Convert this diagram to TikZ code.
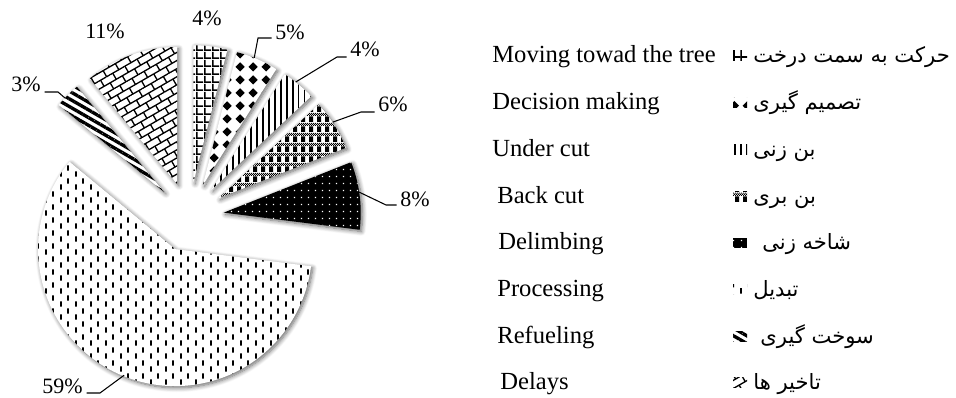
\documentclass[tikz,border=0pt]{standalone}
\usepackage{fontspec}
\setmainfont{Liberation Serif}
\newfontfamily\farsi[Script=Arabic]{DejaVu Sans}
\TeXXeTstate=1
\usetikzlibrary{patterns.meta,shadows.blur}

\tikzdeclarepattern{name=treegrid, type=uncolored,
  bounding box={(0pt,0pt) and (4.3pt,4.3pt)}, tile size={(4.3pt,4.3pt)},
  code={\fill (0pt,0pt) rectangle (4.3pt,1pt); \fill (0pt,0pt) rectangle (1pt,4.3pt);}}
\tikzdeclarepattern{name=decdiamond, type=uncolored,
  bounding box={(0pt,0pt) and (7.4pt,7.4pt)}, tile size={(7.4pt,7.4pt)},
  code={\fill (3.7pt,0.9pt) -- (6.5pt,3.7pt) -- (3.7pt,6.5pt) -- (0.9pt,3.7pt) -- cycle;}}
\tikzdeclarepattern{name=backplaid, type=uncolored,
  bounding box={(0pt,0pt) and (4.5pt,5.6pt)}, tile size={(4.5pt,5.6pt)},
  code={\fill (0pt,0pt) rectangle (2.4pt,3.2pt);
    \foreach \u in {0,2,4,6}{
      \fill (\u*0.5625pt,3.5pt) rectangle ++(0.5625pt,0.6pt);
      \fill (\u*0.5625pt+0.5625pt,4.1pt) rectangle ++(0.5625pt,0.6pt);
      \fill (\u*0.5625pt,4.7pt) rectangle ++(0.5625pt,0.6pt);}}}
\tikzdeclarepattern{name=limbdots, type=uncolored,
  bounding box={(0pt,0pt) and (4.2pt,4.2pt)}, tile size={(4.2pt,4.2pt)},
  code={\fill (1.7pt,1.7pt) rectangle (2.5pt,2.5pt);}}
\tikzdeclarepattern{name=procdash, type=uncolored,
  bounding box={(0pt,0pt) and (8.6pt,7.4pt)}, tile size={(8.6pt,7.4pt)},
  code={\fill (0pt,0.2pt) rectangle (1.1pt,3.4pt); \fill (4.3pt,3.9pt) rectangle (5.4pt,7.1pt);}}
\tikzdeclarepattern{name=delaybrick, type=uncolored,
  bounding box={(-0.4pt,-0.4pt) and (8.4pt,8.4pt)}, tile size={(8pt,8pt)},
  tile transformation={rotate=30},
  code={\draw[line width=0.75pt] (0pt,0pt) -- (8pt,0pt) (0pt,4pt) -- (8pt,4pt)
    (0pt,0pt) -- (0pt,4pt) (4pt,4pt) -- (4pt,8pt);}}

\begin{document}
\begin{tikzpicture}[x=0.02cm, y=0.02cm,
  slice/.style={fill=white, blur shadow={shadow blur steps=8, shadow xshift=1pt,
    shadow yshift=-1pt, shadow blur radius=2.5pt, shadow opacity=60}},
  movefill/.style={postaction={pattern=treegrid}},
  decidefill/.style={postaction={pattern=decdiamond}},
  underfill/.style={postaction={pattern={Lines[angle=90, distance=3.4pt, line width=0.9pt]}}},
  backfill/.style={postaction={pattern=backplaid}},
  limbfill/.style={fill=black, postaction={pattern=limbdots, pattern color=white}},
  procfill/.style={postaction={pattern=procdash}},
  fuelfill/.style={postaction={pattern={Lines[angle=-30, distance=3.8pt, line width=1.9pt]}}},
  delayfill/.style={postaction={pattern=delaybrick}},
  pct/.style={font=\fontsize{12.5}{14}\selectfont, inner sep=2pt},
  leader/.style={line width=0.6pt},
  eng/.style={font=\fontsize{14}{16}\selectfont, anchor=base west, inner sep=0pt},
  fa/.style={font=\farsi\fontsize{12}{14}\selectfont, anchor=base west, inner sep=0pt},
  icon/.style={fill=white, minimum width=0.28cm, minimum height=0.2cm, inner sep=0pt}]
\useasboundingbox (0,0) rectangle (956,398);
\coordinate (C) at (189,181);

\foreach \s/\e/\sty [count=\i] in {75.6/90/movefill, 57.6/75.6/decidefill,
    43.2/57.6/underfill, 21.6/43.2/backfill, -7.2/21.6/limbfill,
    -219.6/-7.2/procfill, 129.6/140.4/fuelfill, 90/129.6/delayfill}
  \path[slice,\sty] (C) ++({(\s+\e)/2}:35) coordinate (o\i) -- ++(\s:137)
    arc[start angle=\s, end angle=\e, radius=137] -- cycle;

\path (o2) ++(68:137) coordinate (p2);
\path (o3) ++(52:137) coordinate (p3);
\path (o4) ++(33.7:137) coordinate (p4);
\path (o5) ++(8.6:137) coordinate (p5);
\path (o6) ++(-112:136) coordinate (p6);
\path (o7) ++(136.5:137) coordinate (p7);

\node[pct] (l1) at (207,380) {4\%};
\node[pct, anchor=base west] (l2) at (271.5,358) {5\%};
\node[pct, anchor=base west] (l3) at (346.5,341) {4\%};
\node[pct, anchor=base west] (l4) at (374.5,286) {6\%};
\node[pct, anchor=base west] (l5) at (396.5,191) {8\%};
\node[pct, anchor=base east] (l6) at (86.5,4) {59\%};
\node[pct, anchor=base east] (l7) at (44.5,306) {3\%};
\node[pct] (l8) at (105,367) {11\%};

\coordinate (b2) at (258,360);
\coordinate (b3) at (337,341);
\coordinate (b4) at (361,286);
\coordinate (b5) at (386,193);
\coordinate (b6) at (100,5);
\coordinate (b7) at (58,306);
\foreach \i in {2,3,4,5}
  \draw[leader] (p\i) -- (b\i) -- (b\i -| l\i.west);
\foreach \i in {6,7}
  \draw[leader] (p\i) -- (b\i) -- (b\i -| l\i.east);

% legend
\foreach \en/\fa/\sty/\ex/\fx [count=\i] in {
    Moving towad the tree/حرکت به سمت درخت/movefill/492/753,
    Decision making/تصمیم گیری/decidefill/492/753,
    Under cut/بن زنی/underfill/492/753,
    Back cut/بن بری/backfill/497/753,
    Delimbing/شاخه زنی/limbfill/498/762,
    Processing/تبدیل/procfill/497/753,
    Refueling/سوخت گیری/fuelfill/497/760,
    Delays/تاخیر ها/delayfill/500/753}{
  \pgfmathsetmacro{\yb}{335-46.7*(\i-1)}
  \node[eng] (e\i) at (\ex,\yb) {\en};
  \node[icon,\sty] (k\i) at (740,\yb+7) {};
  \node[fa] (f\i) at (\fx,\yb) {\beginR\fa\endR};
}
\end{tikzpicture}
\end{document}
